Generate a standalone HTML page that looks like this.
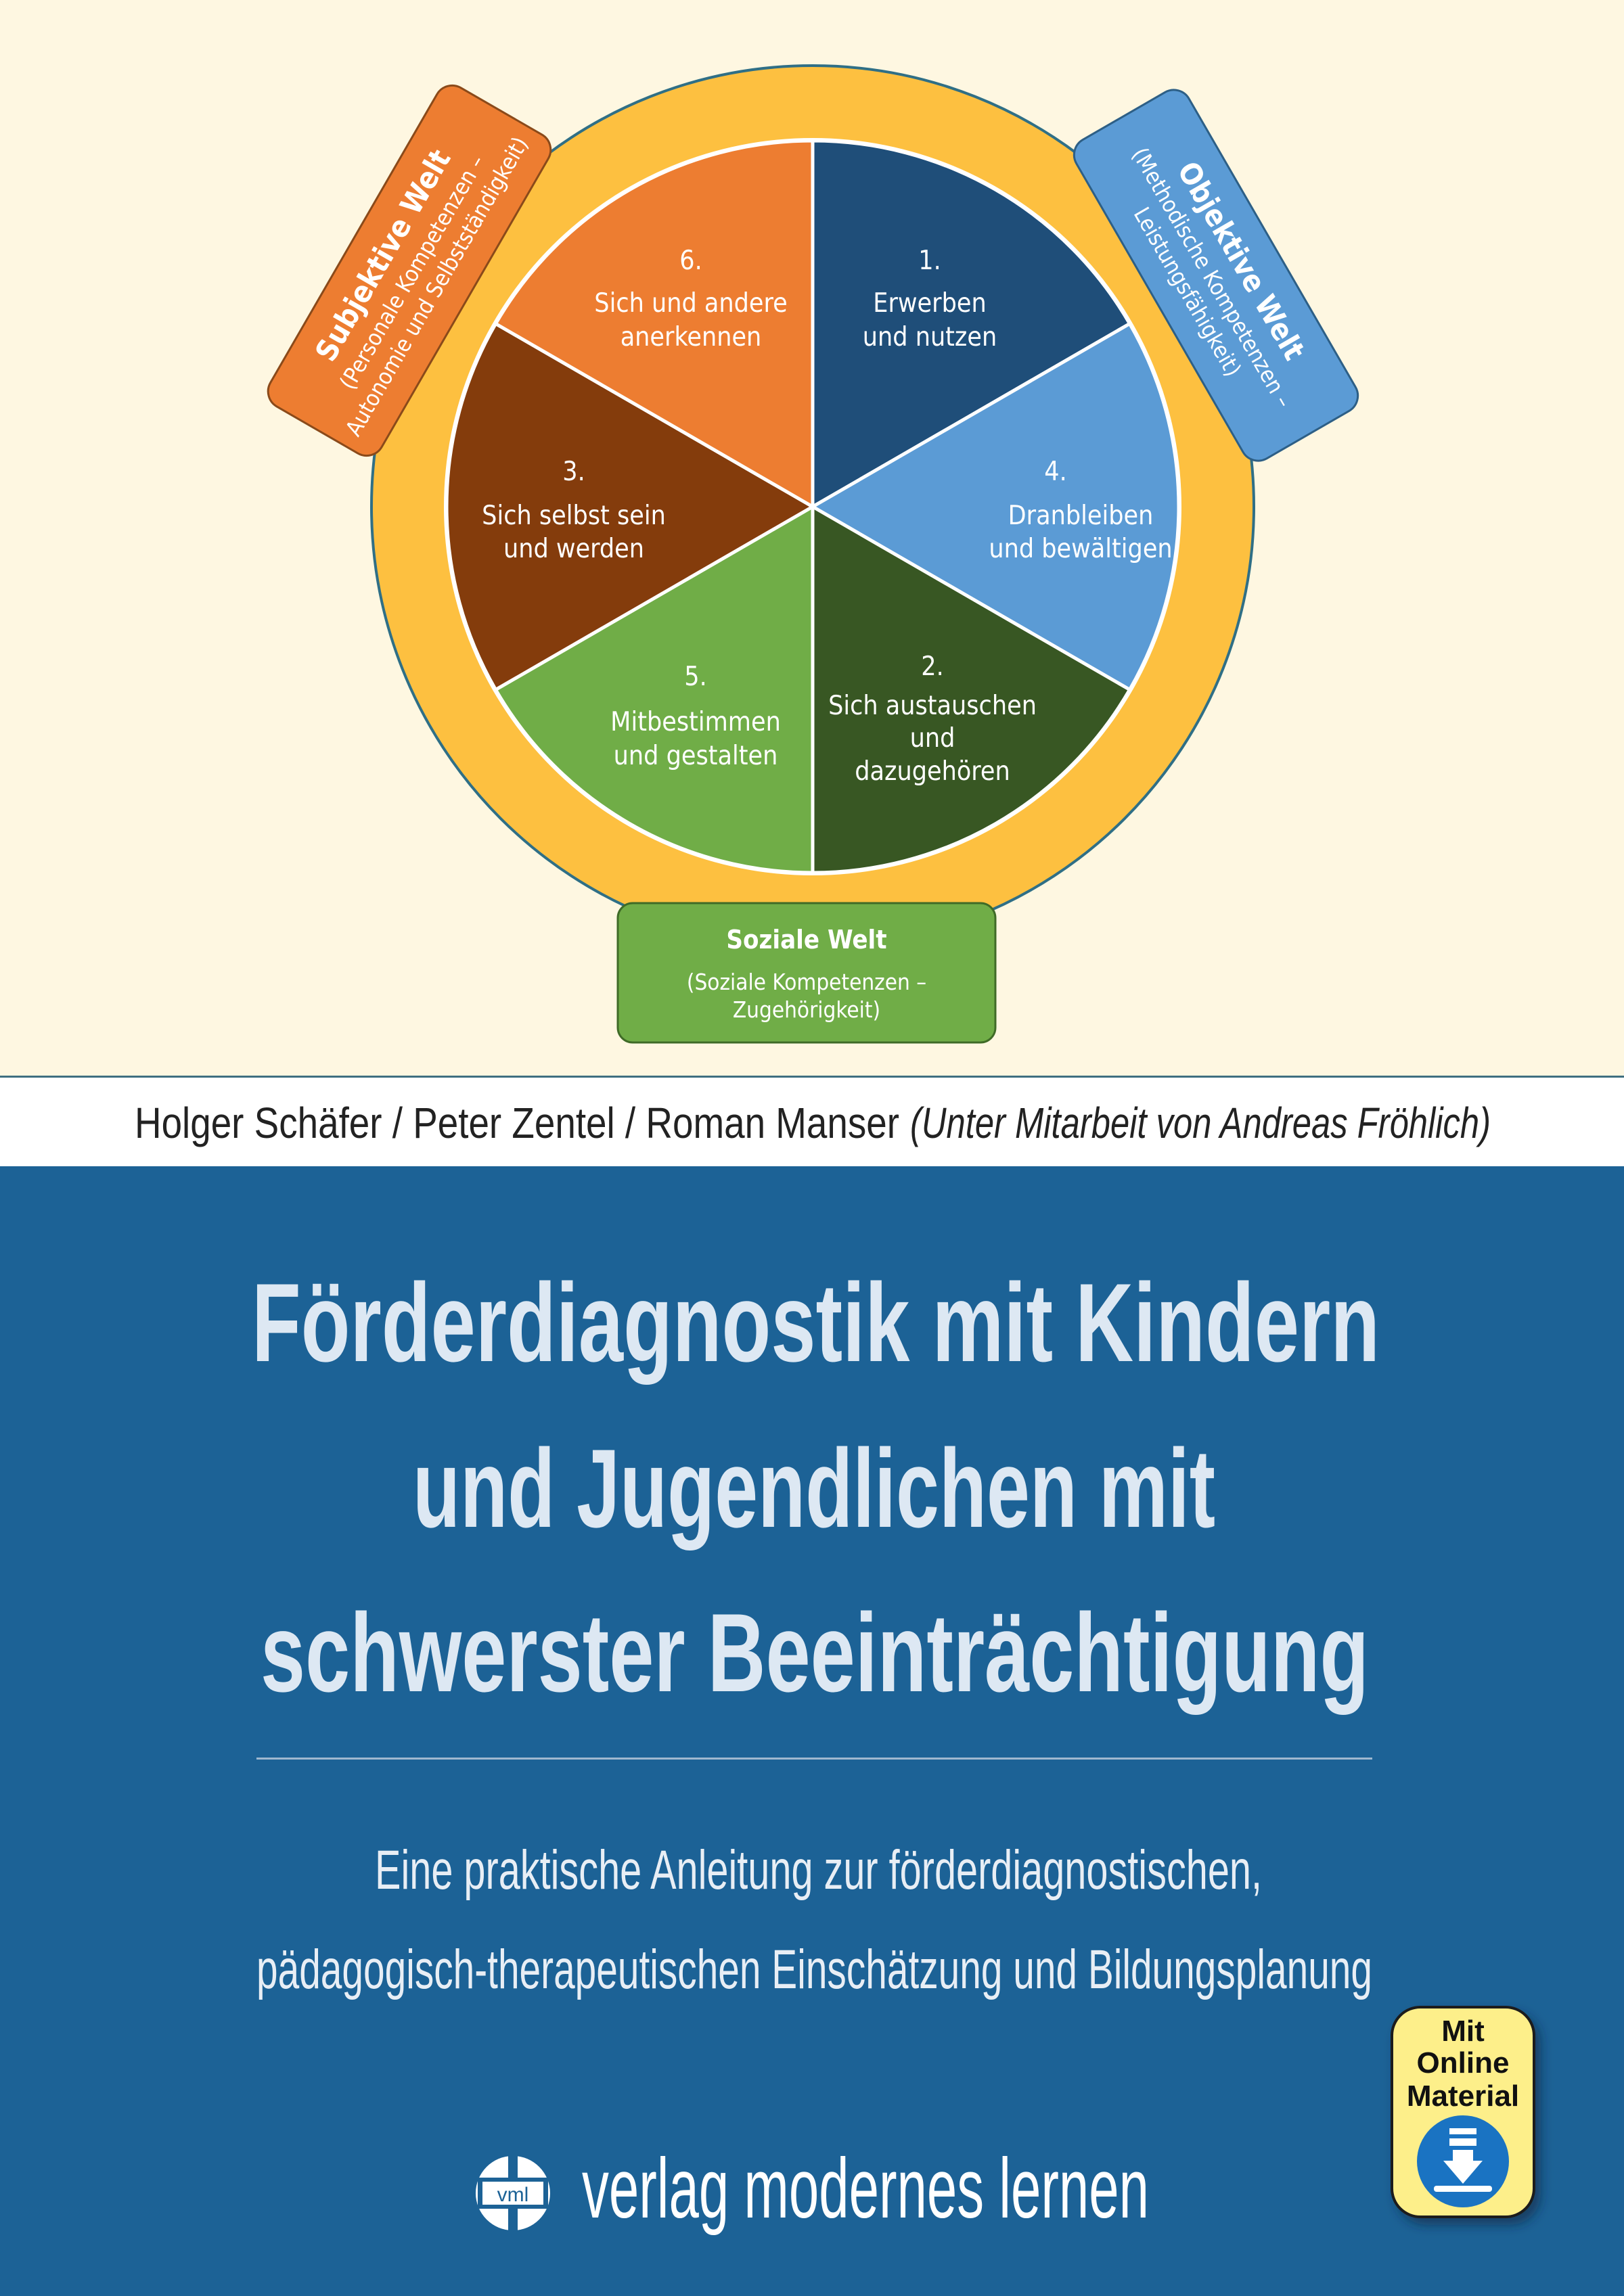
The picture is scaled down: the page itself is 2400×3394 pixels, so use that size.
<!DOCTYPE html>
<html><head><meta charset="utf-8"><style>
html,body{margin:0;padding:0;background:#fef7e1;}
svg{display:block}
</style></head><body>
<svg width="2400" height="3394" viewBox="0 0 2400 3394" xmlns="http://www.w3.org/2000/svg">
<defs>
<filter id="sh" x="-20%" y="-20%" width="150%" height="150%"><feDropShadow dx="8" dy="10" stdDeviation="8" flood-color="#0a2540" flood-opacity="0.6"/></filter>
</defs>
<rect x="0" y="0" width="2400" height="1592" fill="#fef7e1"/>
<rect x="0" y="1590" width="2400" height="3" fill="#3f6f80"/>
<rect x="0" y="1593" width="2400" height="131" fill="#ffffff"/>
<rect x="0" y="1724" width="2400" height="1670" fill="#1c6296"/>

<circle cx="1201" cy="749" r="652" fill="#fdc040" stroke="#2f6f86" stroke-width="4"/>
<circle cx="1201" cy="749" r="545" fill="#ffffff"/>
<g stroke="#ffffff" stroke-width="5" stroke-linejoin="round">
<path d="M1201 749 L1201 208 A541 541 0 0 1 1669.5 478.5 Z" fill="#1f4e79"/>
<path d="M1201 749 L1669.5 478.5 A541 541 0 0 1 1669.5 1019.5 Z" fill="#5b9bd5"/>
<path d="M1201 749 L1669.5 1019.5 A541 541 0 0 1 1201 1290 Z" fill="#385723"/>
<path d="M1201 749 L1201 1290 A541 541 0 0 1 732.5 1019.5 Z" fill="#70ad47"/>
<path d="M1201 749 L732.5 1019.5 A541 541 0 0 1 732.5 478.5 Z" fill="#843c0c"/>
<path d="M1201 749 L732.5 478.5 A541 541 0 0 1 1201 208 Z" fill="#ed7d31"/>
</g>
<g font-family="'DejaVu Sans Condensed','Liberation Sans',sans-serif" font-size="39" fill="#ffffff" text-anchor="middle">
<text x="1021" y="398">6.</text><text x="1021" y="461">Sich und andere</text><text x="1021" y="511">anerkennen</text>
<text x="1374" y="398">1.</text><text x="1374" y="461">Erwerben</text><text x="1374" y="511">und nutzen</text>
<text x="848" y="710">3.</text><text x="848" y="775">Sich selbst sein</text><text x="848" y="824">und werden</text>
<text x="1560" y="710">4.</text><text x="1597" y="775">Dranbleiben</text><text x="1597" y="824">und bewältigen</text>
<text x="1028" y="1013">5.</text><text x="1028" y="1080">Mitbestimmen</text><text x="1028" y="1130">und gestalten</text>
<text x="1378" y="998">2.</text><text x="1378" y="1056">Sich austauschen</text><text x="1378" y="1104">und</text><text x="1378" y="1153">dazugehören</text>
</g>

<g transform="translate(605,400) rotate(-60)">
<rect x="-272" y="-95" width="544" height="190" rx="26" fill="#ed7d31" stroke="#8a4a1a" stroke-width="3"/>
<g font-family="'DejaVu Sans Condensed','Liberation Sans',sans-serif" fill="#ffffff" text-anchor="middle">
<text x="0" y="-30" font-size="44" font-weight="bold">Subjektive Welt</text>
<text x="0" y="16" font-size="33">(Personale Kompetenzen –</text>
<text x="0" y="58" font-size="33">Autonomie und Selbstständigkeit)</text>
</g></g>

<g transform="translate(1797,407) rotate(60)">
<rect x="-272" y="-96" width="544" height="192" rx="26" fill="#5b9bd5" stroke="#2d5f86" stroke-width="3"/>
<g font-family="'DejaVu Sans Condensed','Liberation Sans',sans-serif" fill="#ffffff" text-anchor="middle">
<text x="0" y="-28" font-size="44" font-weight="bold">Objektive Welt</text>
<text x="0" y="18" font-size="33">(Methodische Kompetenzen –</text>
<text x="0" y="60" font-size="33">Leistungsfähigkeit)</text>
</g></g>

<rect x="913" y="1335" width="558" height="206" rx="22" fill="#70ad47" stroke="#3f6b27" stroke-width="3"/>
<g font-family="'DejaVu Sans Condensed','Liberation Sans',sans-serif" fill="#ffffff" text-anchor="middle">
<text x="1192" y="1402" font-size="38" font-weight="bold">Soziale Welt</text>
<text x="1192" y="1463" font-size="33">(Soziale Kompetenzen –</text>
<text x="1192" y="1504" font-size="33">Zugehörigkeit)</text>
</g>

<text x="199" y="1682" font-family="'Liberation Sans Narrow','Liberation Sans',sans-serif" font-size="64" fill="#222" textLength="1130" lengthAdjust="spacingAndGlyphs">Holger Schäfer / Peter Zentel / Roman Manser</text>
<text x="1345" y="1682" font-family="'Liberation Sans Narrow','Liberation Sans',sans-serif" font-size="64" font-style="italic" fill="#222" textLength="858" lengthAdjust="spacingAndGlyphs">(Unter Mitarbeit von Andreas Fröhlich)</text>

<g font-family="'Liberation Sans Narrow','Liberation Sans',sans-serif" font-weight="bold" font-size="165" fill="#dde8f3">
<text x="372" y="2012" textLength="1667" lengthAdjust="spacingAndGlyphs">Förderdiagnostik mit Kindern</text>
<text x="610" y="2257" textLength="1186" lengthAdjust="spacingAndGlyphs">und Jugendlichen mit</text>
<text x="385" y="2500" textLength="1638" lengthAdjust="spacingAndGlyphs">schwerster Beeinträchtigung</text>
</g>
<rect x="379" y="2598" width="1649" height="3" fill="#9fb8cf"/>
<g font-family="'Liberation Sans Narrow','Liberation Sans',sans-serif" font-size="82" fill="#e8eef5">
<text x="554" y="2792" textLength="1311" lengthAdjust="spacingAndGlyphs">Eine praktische Anleitung zur förderdiagnostischen,</text>
<text x="379" y="2939" textLength="1649" lengthAdjust="spacingAndGlyphs">pädagogisch-therapeutischen Einschätzung und Bildungsplanung</text>
</g>

<circle cx="758" cy="3242" r="55" fill="#ffffff"/>
<rect x="751" y="3187" width="14" height="34" fill="#1c6296"/>
<rect x="751" y="3263" width="14" height="36" fill="#1c6296"/>
<rect x="706" y="3219" width="104" height="46" fill="#1c6296"/>
<rect x="713" y="3225" width="90" height="34" fill="#ffffff"/>
<text x="758" y="3254" font-family="'Liberation Sans',sans-serif" font-size="30" fill="#1c6296" text-anchor="middle">vml</text>
<text x="860" y="3278" font-family="'Liberation Sans Narrow','Liberation Sans',sans-serif" font-size="125" fill="#ffffff" textLength="838" lengthAdjust="spacingAndGlyphs">verlag modernes lernen</text>

<rect x="2057" y="2967" width="210" height="310" rx="42" fill="#fdef8a" stroke="#1a1a1a" stroke-width="4" filter="url(#sh)"/>
<g font-family="'Liberation Sans Narrow','Liberation Sans',sans-serif" font-weight="bold" font-size="44" fill="#111" text-anchor="middle">
<text x="2162" y="3017">Mit</text><text x="2162" y="3064">Online</text><text x="2162" y="3113">Material</text>
</g>
<circle cx="2162" cy="3195" r="68" fill="#1a73c2"/>
<rect x="2142" y="3146" width="40" height="9" fill="#ffffff"/>
<rect x="2142" y="3161" width="40" height="11" fill="#ffffff"/>
<rect x="2147" y="3178" width="30" height="16" fill="#ffffff"/>
<path d="M2133 3194 L2191 3194 L2162 3228 Z" fill="#ffffff"/>
<rect x="2119" y="3231" width="86" height="9" rx="4" fill="#ffffff"/>
</svg>
</body></html>
